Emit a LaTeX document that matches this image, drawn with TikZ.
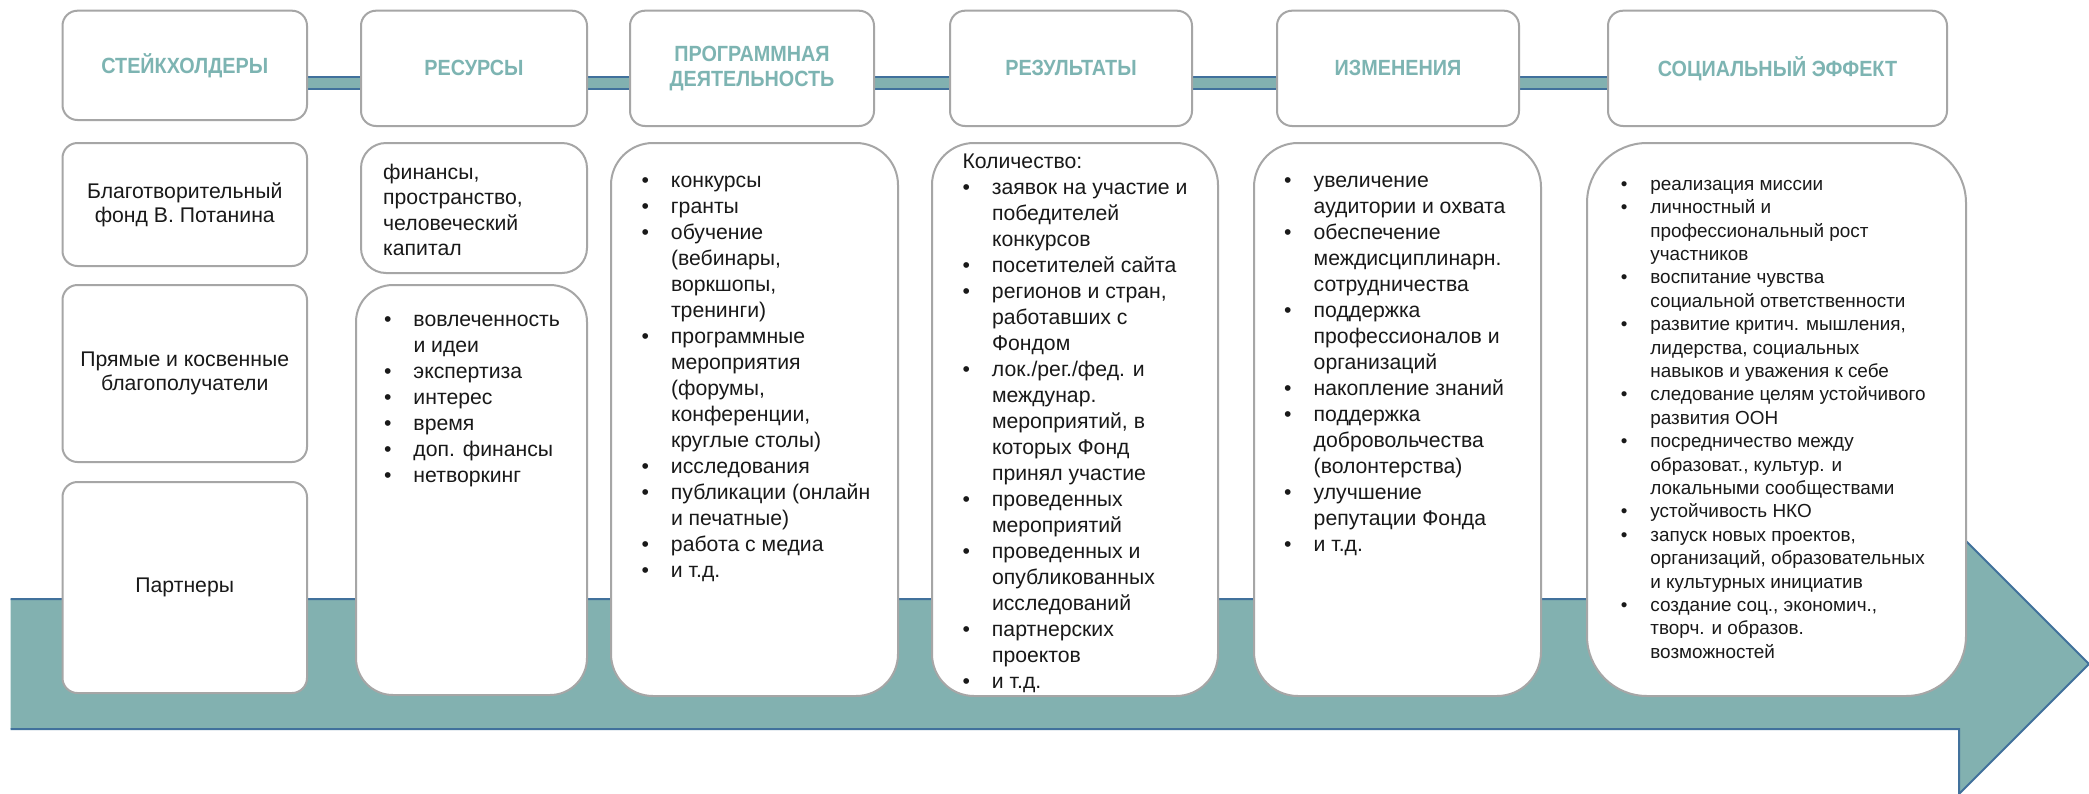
\documentclass[tikz,border=0pt]{standalone}
\usepackage{fontspec}
\setmainfont{Liberation Sans}
\newfontfamily\headfam[FakeStretch=0.9]{Liberation Sans}
\usetikzlibrary{backgrounds}
\definecolor{arrowteal}{RGB}{130,177,176}
\definecolor{arrowblue}{RGB}{65,113,156}
\definecolor{headteal}{RGB}{125,180,178}
\definecolor{boxgray}{RGB}{166,166,166}
\definecolor{txt}{RGB}{25,25,25}
\newlength\bw \setlength\bw{29.5pt}
\newcommand\bl[1]{\makebox[\bw][l]{\textbullet}#1}
\newcommand\cl[1]{\hspace*{\bw}#1}
\newcommand\st{\rule{0pt}{20pt}}
\tikzset{
  hbox/.style={draw=boxgray, line width=2pt, fill=white, rounded corners=15pt, inner sep=0pt,
    font=\headfam\bfseries\fontsize{22}{25.4}\selectfont, text=headteal, align=center},
  sbox/.style={draw=boxgray, line width=2pt, fill=white, rounded corners=15pt, inner sep=0pt,
    font=\fontsize{21.2}{24}\selectfont, text=txt, align=center},
  lbox/.style={draw=boxgray, line width=2pt, fill=white, inner sep=0pt},
  ltext/.style={anchor=north west, inner sep=0pt, align=left, font=\fontsize{21.2}{26}\selectfont, text=txt},
  stext/.style={anchor=north west, inner sep=0pt, align=left, font=\fontsize{18.9}{23.4}\selectfont, text=txt},
  band/.style={line width=2pt, draw=arrowblue, double=arrowteal, double distance=10pt}
}
\begin{document}
\begin{tikzpicture}[x=1pt, y=-1pt]
\useasboundingbox (0,0) rectangle (2089,793);
% header boxes
\node[hbox, minimum width=244.5pt, minimum height=109.3pt] (h1) at (184.75,65.35) {СТЕЙКХОЛДЕРЫ};
\node[hbox, minimum width=226pt, minimum height=115.3pt] (h2) at (474,68.35) {РЕСУРСЫ};
\node[hbox, minimum width=244pt, minimum height=115.3pt] (h3) at (752,68.35) {ПРОГРАММНАЯ\\ДЕЯТЕЛЬНОСТЬ};
\node[hbox, minimum width=242pt, minimum height=115.3pt] (h4) at (1071,68.35) {РЕЗУЛЬТАТЫ};
\node[hbox, minimum width=242pt, minimum height=115.3pt] (h5) at (1398,68.35) {ИЗМЕНЕНИЯ};
\node[hbox, minimum width=339pt, minimum height=115.3pt] (h6) at (1777.5,68.35) {СОЦИАЛЬНЫЙ ЭФФЕКТ};
% column 1
\node[sbox, minimum width=244.5pt, minimum height=123pt] (a1) at (184.75,204.5) {Благотворительный\\фонд В. Потанина};
\node[sbox, minimum width=244.5pt, minimum height=177pt] (a2) at (184.75,373.5) {Прямые и косвенные\\благополучатели};
\node[sbox, minimum width=244.5pt, minimum height=211pt] (a3) at (184.75,587.5) {Партнеры};
% column 2
\node[lbox, rounded corners=25pt, minimum width=226pt, minimum height=130pt] (b1) at (474,208) {};
\node[lbox, rounded corners=37pt, minimum width=231pt, minimum height=410pt] (b2) at (471.5,490) {};
% columns 3-6
\node[lbox, rounded corners=42pt, minimum width=287pt, minimum height=553pt] (c) at (754.5,419.5) {};
\node[lbox, rounded corners=42pt, minimum width=286pt, minimum height=553pt] (d) at (1075,419.5) {};
\node[lbox, rounded corners=44pt, minimum width=287pt, minimum height=553pt] (e) at (1397.5,419.5) {};
\node[lbox, rounded corners=60pt, minimum width=379pt, minimum height=553pt] (f) at (1776.5,419.5) {};
% texts
\node[ltext, font=\fontsize{21.2}{25.4}\selectfont] (tb1) at (383,159) {\st финансы,\\пространство,\\человеческий\\капитал};
\node[ltext] (tb2) at (383.8,306) {\st\bl{вовлеченность}\\\cl{и идеи}\\\bl{экспертиза}\\\bl{интерес}\\\bl{время}\\\bl{доп. финансы}\\\bl{нетворкинг}};
\node[ltext] (tc) at (641.3,167) {\st\bl{конкурсы}\\\bl{гранты}\\\bl{обучение}\\\cl{(вебинары,}\\\cl{воркшопы,}\\\cl{тренинги)}\\\bl{программные}\\\cl{мероприятия}\\\cl{(форумы,}\\\cl{конференции,}\\\cl{круглые столы)}\\\bl{исследования}\\\bl{публикации (онлайн}\\\cl{и печатные)}\\\bl{работа с медиа}\\\bl{и т.д.}};
\node[ltext] (td) at (962.3,148.7) {\st Количество:\\\bl{заявок на участие и}\\\cl{победителей}\\\cl{конкурсов}\\\bl{посетителей сайта}\\\bl{регионов и стран,}\\\cl{работавших с}\\\cl{Фондом}\\\bl{лок./рег./фед. и}\\\cl{междунар.}\\\cl{мероприятий, в}\\\cl{которых Фонд}\\\cl{принял участие}\\\bl{проведенных}\\\cl{мероприятий}\\\bl{проведенных и}\\\cl{опубликованных}\\\cl{исследований}\\\bl{партнерских}\\\cl{проектов}\\\bl{и т.д.}};
\node[ltext] (te) at (1284,167) {\st\bl{увеличение}\\\cl{аудитории и охвата}\\\bl{обеспечение}\\\cl{междисциплинарн.}\\\cl{сотрудничества}\\\bl{поддержка}\\\cl{профессионалов и}\\\cl{организаций}\\\bl{накопление знаний}\\\bl{поддержка}\\\cl{добровольчества}\\\cl{(волонтерства)}\\\bl{улучшение}\\\cl{репутации Фонда}\\\bl{и т.д.}};
\node[stext] (tf) at (1620.7,170) {\st\bl{реализация миссии}\\\bl{личностный и}\\\cl{профессиональный рост}\\\cl{участников}\\\bl{воспитание чувства}\\\cl{социальной ответственности}\\\bl{развитие критич. мышления,}\\\cl{лидерства, социальных}\\\cl{навыков и уважения к себе}\\\bl{следование целям устойчивого}\\\cl{развития ООН}\\\bl{посредничество между}\\\cl{образоват., культур. и}\\\cl{локальными сообществами}\\\bl{устойчивость НКО}\\\bl{запуск новых проектов,}\\\cl{организаций, образовательных}\\\cl{и культурных инициатив}\\\bl{создание соц., экономич.,}\\\cl{творч. и образов.}\\\cl{возможностей}};
% background: arrow and connecting bands
\begin{pgfonlayer}{background}
\fill[white] (0,0) rectangle (2089,793);
\fill[arrowteal] (10.7,599) -- (1959,599) -- (1959,534) -- (2089,664) -- (1959,794) -- (1959,729) -- (10.7,729) -- cycle;
\draw[arrowblue, line width=2pt, line join=miter] (10.7,599) -- (1959,599) -- (1959,534) -- (2089,664) -- (1959,794) -- (1959,729) -- (10.7,729);
\coordinate (bandy) at (0,82.5);
\draw[band] (h1.east |- bandy) -- (h2.west |- bandy);
\draw[band] (h2.east |- bandy) -- (h3.west |- bandy);
\draw[band] (h3.east |- bandy) -- (h4.west |- bandy);
\draw[band] (h4.east |- bandy) -- (h5.west |- bandy);
\draw[band] (h5.east |- bandy) -- (h6.west |- bandy);
\end{pgfonlayer}
\end{tikzpicture}
\end{document}
